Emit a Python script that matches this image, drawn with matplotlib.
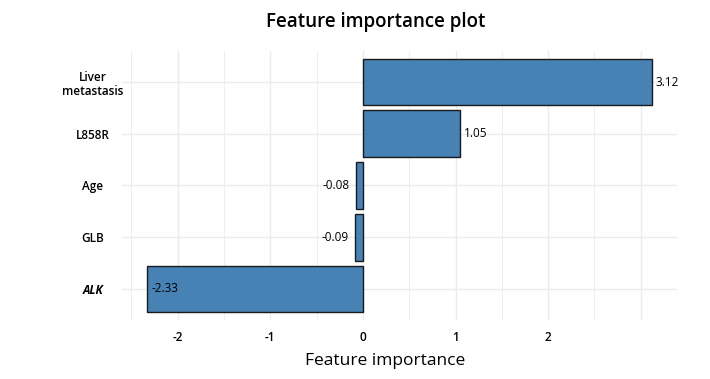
import matplotlib.pyplot as plt
import numpy as np

# data
features = ['Liver\nmetastasis', 'L858R', 'Age', 'GLB', 'ALK']
importance = [3.12, 1.05, -0.08, -0.09, -2.33]
xticks = [-2, -1, 0, 1, 2]

plt.rcParams['font.family'] = ['Open Sans', 'DejaVu Sans']

fig = plt.figure(figsize=(7.1, 3.79), dpi=100)
ax = fig.add_axes([122/710, 59/379, 555/710, 269/379])

y = np.arange(len(features))[::-1] + 1
ax.barh(y, importance, height=0.9, color='#4682B4', edgecolor='#1a1a1a',
        linewidth=1.0, zorder=3)

for yi, v in zip(y, importance):
    lab = '%.2f' % v
    if v >= 0:
        ax.text(v + 0.04, yi, lab, ha='left', va='center', fontsize=8.5, zorder=4)
    elif v < -1:
        ax.text(v + 0.05, yi, lab, ha='left', va='center', fontsize=8.5, zorder=4)
    else:
        ax.text(v - 0.06, yi, lab, ha='right', va='center', fontsize=8.5, zorder=4)

lo, hi = min(importance), max(importance)
pad = (hi - lo) * 0.05
ax.set_xlim(lo - pad, hi + pad)
ax.set_ylim(0.4, len(features) + 0.6)

# grid like theme_minimal
for g in np.arange(-2.5, 3.01, 0.5):
    ax.axvline(g, color='#ebebeb', lw=1.0 if g % 1 == 0 else 0.6, zorder=0)
for yi in y:
    ax.axhline(yi, color='#ebebeb', lw=1.0, zorder=0)

ax.set_xticks(xticks)
ax.set_xticklabels([str(t) for t in xticks], fontsize=8.5, fontweight='semibold')
ax.set_yticks(y)
ax.set_yticklabels(features, fontsize=8.5, fontweight='semibold', linespacing=1.1)
for t in ax.get_yticklabels():
    t.set_horizontalalignment('center')
    t.set_multialignment('center')
ax.get_yticklabels()[-1].set_fontstyle('italic')
ax.get_yticklabels()[-1].set_fontweight('bold')
ax.tick_params(axis='x', length=0, pad=8)
ax.tick_params(axis='y', length=0, pad=21)
for s in ax.spines.values():
    s.set_visible(False)

ax.set_xlabel('Feature importance', fontsize=12.5, fontweight='medium')
ax.xaxis.set_label_coords((385 - 122) / 555, -(353 - 320) / 269)
fig.text(376/710, 1 - 22/379, 'Feature importance plot', ha='center', va='center',
         fontsize=13.5, fontweight='semibold')

fig.savefig('out.png', dpi=100)
